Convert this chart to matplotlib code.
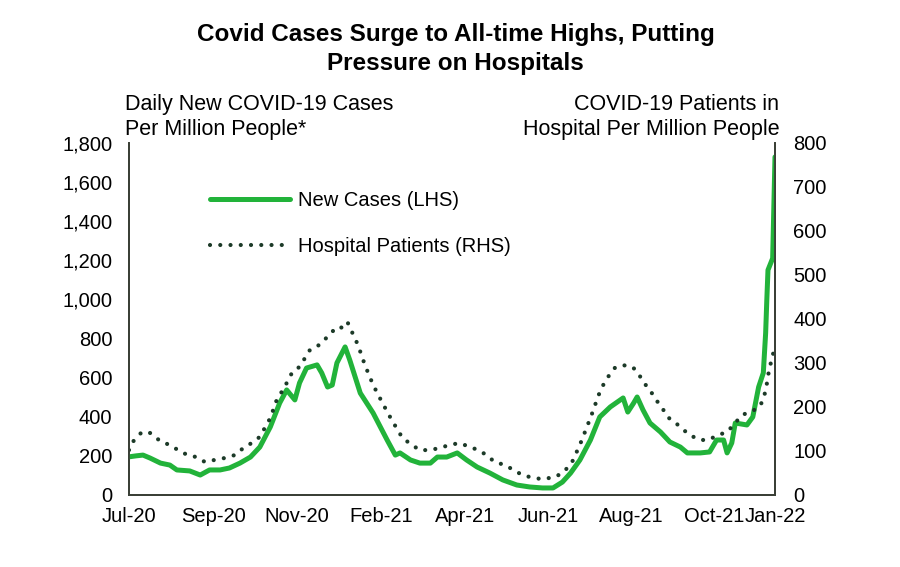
import matplotlib
matplotlib.use('Agg')
import matplotlib.pyplot as plt

plt.rcParams['font.family'] = ['Liberation Sans', 'DejaVu Sans']

# days since start of series (early Jul-2020)
casos_dias = [0, 6, 12, 18, 27, 35, 41, 52, 61, 69, 78, 86, 95, 104, 112, 121, 129, 135, 142,
              146, 152, 161, 165, 170, 174, 178, 185, 189, 198, 209, 221, 228, 232, 241, 249,
              258, 264, 272, 281, 289, 298, 309, 320, 332, 343, 354, 363, 371, 378, 386, 395,
              403, 412, 423, 427, 432, 435, 440, 446, 455, 463, 472, 478, 489, 497, 503, 509,
              512, 516, 519, 529, 534, 539, 543, 545, 546, 547, 551, 553]
casos = [195, 200, 204, 189, 163, 153, 128, 123, 102, 128, 128, 138, 163, 194, 245, 348, 470,
         537, 486, 573, 649, 665, 624, 552, 562, 675, 757, 690, 521, 419, 281, 204, 215, 179,
         163, 163, 194, 194, 215, 179, 143, 112, 77, 51, 41, 36, 36, 66, 112, 179, 281, 399,
         450, 496, 424, 470, 501, 435, 368, 322, 271, 245, 215, 215, 220, 281, 281, 215, 266,
         368, 358, 399, 552, 624, 828, 997, 1150, 1210, 1728]

hosp_dias = [0, 3, 11, 18, 28, 35, 42, 50, 58, 65, 74, 82, 91, 98, 105, 112, 121, 127, 132,
             140, 146, 155, 163, 169, 178, 183, 187, 192, 196, 202, 209, 217, 225, 230, 234,
             242, 249, 258, 266, 275, 283, 290, 299, 306, 313, 322, 329, 337, 346, 354, 365,
             372, 379, 386, 390, 396, 402, 406, 410, 416, 423, 431, 436, 440, 446, 450, 456,
             461, 467, 473, 480, 489, 496, 504, 512, 519, 525, 532, 539, 543, 545, 547, 548,
             551, 552]
hospital = [102, 120, 143, 141, 120, 114, 102, 91, 86, 75, 80, 84, 91, 107, 118, 132, 175,
            220, 239, 280, 291, 330, 341, 357, 382, 380, 393, 364, 341, 295, 250, 209, 170,
            148, 130, 114, 102, 102, 107, 114, 118, 111, 102, 91, 75, 68, 57, 45, 39, 36, 41,
            52, 73, 114, 141, 182, 227, 250, 268, 289, 295, 291, 277, 257, 239, 220, 200, 177,
            166, 152, 136, 125, 125, 136, 143, 164, 182, 189, 198, 216, 239, 266, 289, 311, 336]

ticks_dias = [0, 72, 144, 216, 288, 359, 430, 501, 553]
ticks_rotulos = ['Jul-20', 'Sep-20', 'Nov-20', 'Feb-21', 'Apr-21', 'Jun-21', 'Aug-21',
                 'Oct-21', 'Jan-22']

verde = '#22b33a'
verdeEscuro = '#1c3a28'
corEixo = '#3a3f36'

fig = plt.figure(figsize=(9, 5.67), dpi=100)
ax = fig.add_axes([0.1433, 0.127, 0.7178, 0.621])
ax2 = ax.twinx()

ax.plot(casos_dias, casos, color=verde, lw=3.6, solid_capstyle='round',
        solid_joinstyle='round', label='New Cases (LHS)', zorder=3)
ax2.plot(hosp_dias, hospital, color=verdeEscuro, lw=3.0, dashes=(0.01, 2.45),
         dash_capstyle='round', label='Hospital Patients (RHS)')

ax.set_xlim(0, 553)
ax.set_ylim(0, 1800)
ax2.set_ylim(0, 800)
ax.set_yticks(range(0, 1801, 200))
ax.set_yticklabels([f'{v:,}' for v in range(0, 1801, 200)])
ax2.set_yticks(range(0, 801, 100))
ax.set_xticks(ticks_dias)
ax.set_xticklabels(ticks_rotulos)

for a in (ax, ax2):
    a.spines['top'].set_visible(False)
    for lado in ('left', 'right', 'bottom'):
        a.spines[lado].set_color(corEixo)
        a.spines[lado].set_linewidth(1.3)
    a.tick_params(length=0, labelsize=14.5, colors='black')
ax.tick_params(axis='y', pad=12)
ax.tick_params(axis='x', pad=9)
ax2.tick_params(axis='y', pad=13)

fig.text(0.506, 0.96, 'Covid Cases Surge to All-time Highs, Putting\nPressure on Hospitals',
         ha='center', va='top', fontsize=17.5, fontweight='bold', linespacing=1.33)
fig.text(0.139, 0.835, 'Daily New COVID-19 Cases\nPer Million People*', ha='left', va='top',
         fontsize=15.5, linespacing=1.25)
fig.text(0.866, 0.835, 'COVID-19 Patients in\nHospital Per Million People', ha='right',
         va='top', fontsize=15.5, linespacing=1.25)

linhas = ax.get_lines() + ax2.get_lines()
ax2.legend(linhas, [l.get_label() for l in linhas], loc='upper left',
           bbox_to_anchor=(0.233, 0.663), bbox_transform=fig.transFigure, frameon=False,
           fontsize=14.5, handlelength=4.0, handletextpad=0.4, labelspacing=1.35,
           borderpad=0, borderaxespad=0)

fig.savefig('out.png', dpi=100)
